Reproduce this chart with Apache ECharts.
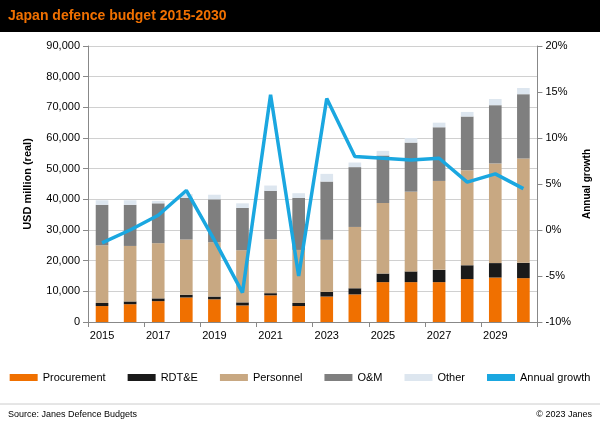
<!DOCTYPE html><html><head><meta charset="utf-8"><script src="https://cdn.jsdelivr.net/npm/echarts@6/dist/echarts.min.js"></script>
<style>body{margin:0;background:#fff}#c{width:600px;height:428px}</style></head><body><div id="c"></div><script>
const years=['2015','2016','2017','2018','2019','2020','2021','2022','2023','2024','2025','2026','2027','2028','2029','2030'];
const procurement=[5200,5800,6800,8000,7400,5400,8700,5200,8300,9000,13000,13000,13000,14000,14500,14300];
const rdte=[1000,900,900,900,900,1000,700,1000,1500,2000,2800,3500,4000,4500,4700,5000];
const personnel=[18800,18100,18000,18000,17700,17000,17600,17300,17000,20000,23000,26000,29000,31000,32500,34000];
const om=[13200,13400,13000,13600,14000,13800,15800,17000,19000,19500,15500,16000,17500,17500,19000,21000];
const other=[1500,1500,800,1200,1500,1500,1700,1500,2500,1500,1500,1500,1500,1500,2000,2000];
const growth=[-1.4,0,1.6,4.3,-1.1,-6.8,14.7,-5,14.3,8.0,7.8,7.6,7.8,5.2,6.1,4.5];
const ch=echarts.init(document.getElementById('c'));
const bar=(n,d,c)=>({name:n,type:'bar',stack:'a',data:d,barWidth:'45%',itemStyle:{color:c}});
ch.setOption({
textStyle:{fontFamily:'Liberation Sans, Arial'},
graphic:[{type:'rect',shape:{x:0,y:0,width:600,height:32},style:{fill:'#000'}},
{type:'text',left:8,top:9,style:{text:'Japan defence budget 2015-2030',fill:'#f07000',font:'bold 14px Liberation Sans, Arial'}},
{type:'line',shape:{x1:0,y1:404,x2:600,y2:404},style:{stroke:'#ccc'}},
{type:'text',left:8,top:410,style:{text:'Source: Janes Defence Budgets',fill:'#000',font:'9px Liberation Sans, Arial'}},
{type:'text',right:8,top:410,style:{text:'© 2023 Janes',fill:'#000',font:'9px Liberation Sans, Arial'}}],
legend:{bottom:40,left:'center',itemGap:22,itemWidth:28,itemHeight:7,textStyle:{fontSize:11,color:'#000'},
data:[{name:'Procurement',icon:'rect'},{name:'RDT&E',icon:'rect'},{name:'Personnel',icon:'rect'},{name:'O&M',icon:'rect'},{name:'Other',icon:'rect'},{name:'Annual growth',icon:'rect',itemStyle:{color:'#1aa7e0'}}]},
grid:{left:88,right:60,top:46,bottom:106},
xAxis:{type:'category',data:years,axisTick:{show:true,alignWithLabel:false,lineStyle:{color:'#888'}},axisLine:{lineStyle:{color:'#888'}},axisLabel:{color:'#000',fontSize:11}},
yAxis:[{type:'value',min:0,max:90000,interval:10000,name:'USD million (real)',nameLocation:'middle',nameGap:55,nameTextStyle:{fontWeight:'bold',fontSize:11,color:'#000'},
axisLabel:{color:'#000',fontSize:11,formatter:v=>v.toLocaleString('en-US')},axisLine:{show:true,lineStyle:{color:'#888'}},axisTick:{show:true},splitLine:{lineStyle:{color:'#d0d0d0'}}},
{type:'value',min:-10,max:20,interval:5,name:'Annual growth',nameLocation:'middle',nameGap:40,nameTextStyle:{fontWeight:'bold',fontSize:10,color:'#000'},
axisLabel:{color:'#000',fontSize:11,formatter:'{value}%'},axisLine:{show:true,lineStyle:{color:'#888'}},axisTick:{show:true},splitLine:{show:false}}],
series:[bar('Procurement',procurement,'#f07000'),bar('RDT&E',rdte,'#1a1a1a'),bar('Personnel',personnel,'#c8a882'),bar('O&M',om,'#7f7f7f'),bar('Other',other,'#dde6ef'),
{name:'Annual growth',type:'line',yAxisIndex:1,data:growth,symbol:'none',lineStyle:{color:'#1aa7e0',width:3.5},itemStyle:{color:'#1aa7e0'}}]
});
</script></body></html>
